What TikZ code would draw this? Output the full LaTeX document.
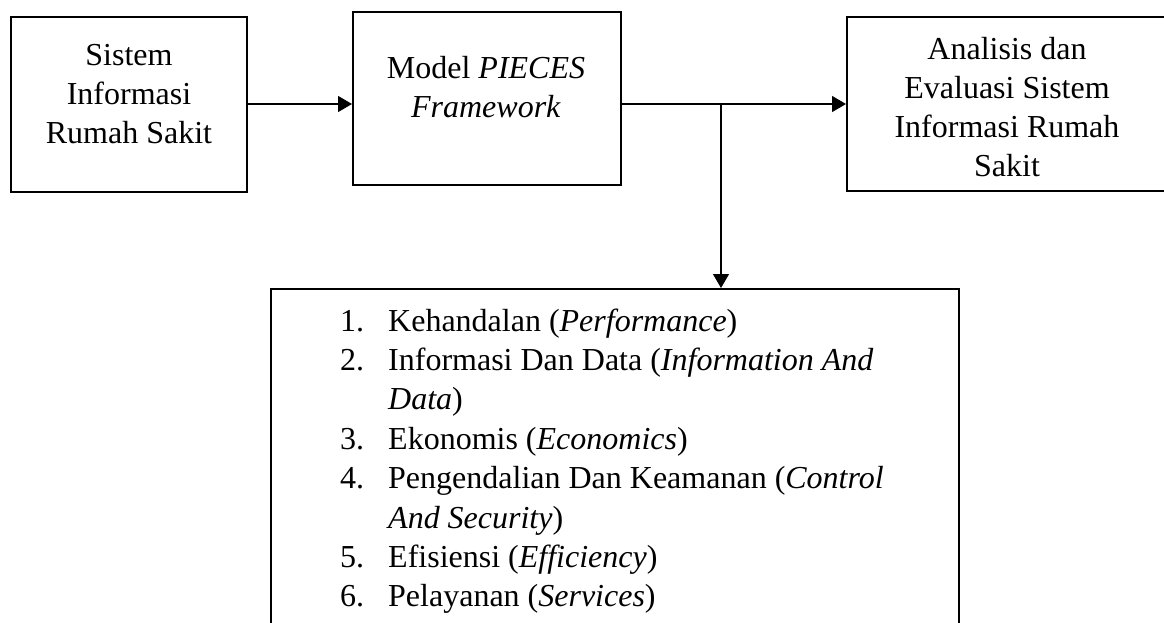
\documentclass[tikz,border=0pt]{standalone}
\usepackage{fontspec}
\setmainfont{Liberation Serif}
\usetikzlibrary{arrows.meta}
\begin{document}
\begin{tikzpicture}[x=1pt,y=-1pt,
  box/.style={draw=black, line width=2pt, rectangle, inner sep=0pt},
  txt/.style={font=\fontsize{32}{39}\selectfont, align=center, inner sep=0pt, anchor=base},
  conn/.style={line width=1.3pt, -{Triangle[length=14pt,width=16pt]}}]
\useasboundingbox (0,0) rectangle (1164,622);
\fill[white] (0,0) rectangle (1164,622);
\clip (0,0) rectangle (1164,622);
% boxes
\node[box, minimum width=236pt, minimum height=175pt] (b1) at (129,104.5) {};
\node[box, minimum width=268pt, minimum height=173pt] (b2) at (487,98.5) {};
\node[box, minimum width=320pt, minimum height=174pt] (b3) at (1007,104) {};
\node[box, minimum width=688pt, minimum height=351pt] (b4) at (615,464.5) {};
% texts (base anchor = baseline of last line)
\node[txt] (t1) at (129,143) {Sistem\\Informasi\\Rumah Sakit};
\node[txt] (t2) at (486,117) {Model \textit{PIECES}\\\textit{Framework}};
\node[txt] (t3) at (1007,176) {Analisis dan\\Evaluasi Sistem\\Informasi Rumah\\Sakit};
\node[anchor=base west, inner sep=0pt, font=\fontsize{32}{39.4}\selectfont] (list) at (340,331)
{\begin{tabular}[t]{@{}p{48pt}@{}l@{}}
1. & Kehandalan (\textit{Performance})\\
2. & Informasi Dan Data (\textit{Information And}\\
   & \textit{Data})\\
3. & Ekonomis (\textit{Economics})\\
4. & Pengendalian Dan Keamanan (\textit{Control}\\
   & \textit{And Security})\\
5. & Efisiensi (\textit{Efficiency})\\
6. & Pelayanan (\textit{Services})
\end{tabular}};
% connectors
\coordinate (j) at (721,104);
\draw[conn] (b1.east |- j) -- (b2.west |- j);
\draw[conn] (b2.east |- j) -- (b3.west |- j);
\draw[conn] (j) -- (j |- b4.north);
\end{tikzpicture}
\end{document}
